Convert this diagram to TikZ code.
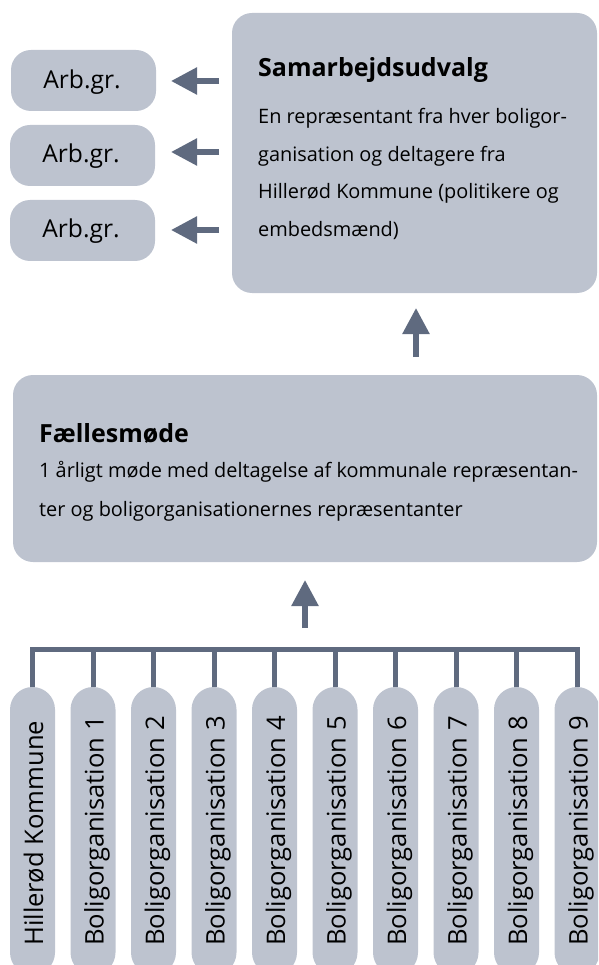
\documentclass[tikz,border=0pt]{standalone}
\usepackage{fontspec}
\setmainfont{Open Sans}
\usetikzlibrary{arrows.meta}
\definecolor{boxfill}{HTML}{BDC3CF}
\definecolor{arrcol}{HTML}{5F6A7F}
\tikzset{
  box/.style={fill=boxfill, draw=none, rounded corners=20pt},
  pill/.style={fill=boxfill, draw=none, rounded corners=22.5pt},
  arr/.style={draw=arrcol, line width=5.5pt, -{Triangle[length=26pt,width=26pt]}},
  bar/.style={draw=arrcol, line width=5pt},
  title/.style={anchor=base west, inner sep=0pt, font=\fontsize{25}{30}\selectfont\bfseries},
  body/.style={anchor=base west, inner sep=0pt, font=\fontsize{19.9}{24}\selectfont},
  arbtxt/.style={anchor=base, inner sep=0pt, font=\fontsize{24.6}{28}\selectfont},
  pilltxt/.style={anchor=base west, inner sep=0pt, rotate=90, font=\fontsize{25.6}{30}\selectfont},
}
\begin{document}
\begin{tikzpicture}[x=1pt, y=-1pt]
\useasboundingbox (0,0) rectangle (598,965);
\clip (0,0) rectangle (598,965);
% top right box
\path[box] (232,13) rectangle (597,293);
\node[title] (samarT) at (258,77) {Samarbejdsudvalg};
\node[body] (samarL1) at (258,124) {En repræsentant fra hver boligor-};
\node[body] (samarL2) at (258,161.5) {ganisation og deltagere fra};
\node[body] (samarL3) at (258,199) {Hillerød Kommune (politikere og};
\node[body] (samarL4) at (258,236.5) {embedsmænd)};
% working groups
\path[box] (11,50) rectangle (156,111);
\path[box] (10,125) rectangle (155,186);
\path[box] (10,200) rectangle (155,261);
\node[arbtxt] (arb1) at (82,89) {Arb.gr.};
\node[arbtxt] (arb2) at (81,163) {Arb.gr.};
\node[arbtxt] (arb3) at (81,238) {Arb.gr.};
\coordinate (a1s) at (219,81);
\coordinate (a1e) at (171,81);
\coordinate (a2s) at (219,152);
\coordinate (a2e) at (171,152);
\coordinate (a3s) at (219,230);
\coordinate (a3e) at (171,230);
\draw[arr] (a1s) -- (a1e);
\draw[arr] (a2s) -- (a2e);
\draw[arr] (a3s) -- (a3e);
% faellesmoede
\path[box] (13,375) rectangle (597,562);
\node[title] (faelT) at (39,442) {Fællesmøde};
\node[body] (faelL1) at (39,477.5) {1 årligt møde med deltagelse af kommunale repræsentan-};
\node[body] (faelL2) at (39,516) {ter og boligorganisationernes repræsentanter};
\coordinate (up1s) at (416,357);
\coordinate (up1e) at (416,308);
\draw[arr] (up1s) -- (up1e);
\coordinate (up2s) at (305,628);
\coordinate (up2e) at (305,580);
\draw[arr] (up2s) -- (up2e);
% bar
\coordinate (barL) at (32.5,649.5);
\coordinate (barR) at (577,649.5);
\draw[bar, line cap=rect] (barL) -- (barR);
% pills
\foreach \i/\t in {0/Hillerød Kommune,1/Boligorganisation 1,2/Boligorganisation 2,3/Boligorganisation 3,4/Boligorganisation 4,5/Boligorganisation 5,6/Boligorganisation 6,7/Boligorganisation 7,8/Boligorganisation 8,9/Boligorganisation 9}{
  \pgfmathsetmacro{\cx}{32.5+60.5*\i}
  \path[pill] (\cx-22.5,687) rectangle (\cx+22.5,975);
  \coordinate (top\i) at (\cx,687);
  \draw[bar] (top\i) -- (\cx,649.5);
  \node[pilltxt] (p\i) at (\cx+10.5,946) {\t};
}
\end{tikzpicture}
\end{document}
